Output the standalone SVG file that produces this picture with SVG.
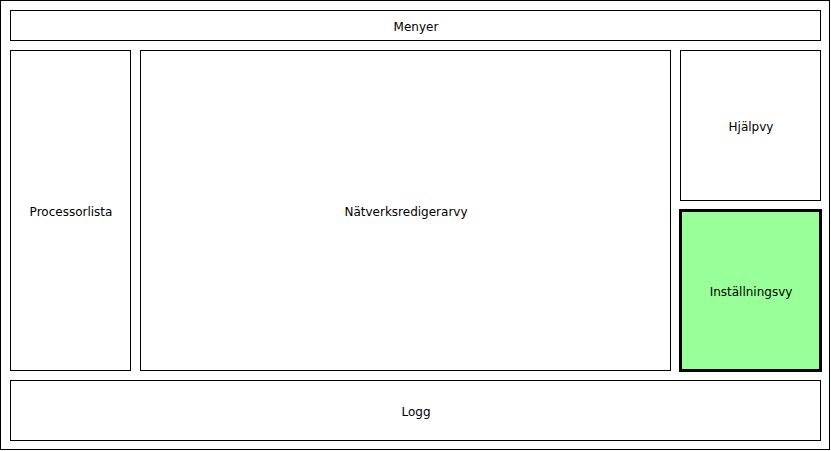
<svg xmlns="http://www.w3.org/2000/svg" width="831" height="451" viewBox="0 0 831 451">
<style>
.b{fill:#fff;stroke:#000;stroke-width:1}
.g{fill:#99ff99;stroke:#000;stroke-width:3}
text{font-family:"DejaVu Sans",sans-serif;font-size:12px;text-anchor:middle;dominant-baseline:central;fill:#000}
</style>
<rect x="0.5" y="0.5" width="829" height="449" class="b"/>
<g id="menyer"><rect x="10.5" y="10.5" width="810" height="30" class="b"/><text x="416" y="26.5">Menyer</text></g>
<g id="processorlista"><rect x="10.5" y="50.5" width="120" height="320" class="b"/><text x="71" y="212">Processorlista</text></g>
<g id="natverksredigerarvy"><rect x="140.5" y="50.5" width="530" height="320" class="b"/><text x="406" y="212">Nätverksredigerarvy</text></g>
<g id="hjalpvy"><rect x="680.5" y="50.5" width="140" height="150" class="b"/><text x="751" y="127">Hjälpvy</text></g>
<g id="installningsvy"><rect x="680.5" y="210.5" width="140" height="160" class="g"/><text x="751" y="292">Inställningsvy</text></g>
<g id="logg"><rect x="10.5" y="380.5" width="810" height="60" class="b"/><text x="416" y="412">Logg</text></g>
<g id="connectors"/>
</svg>
